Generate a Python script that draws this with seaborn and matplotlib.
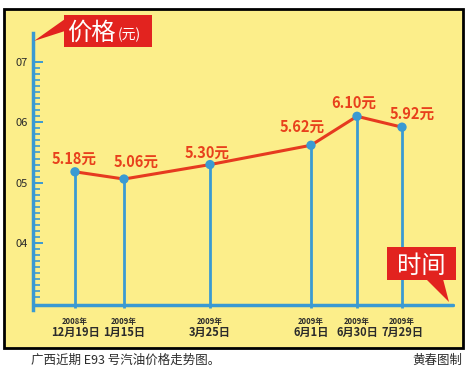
import matplotlib
matplotlib.use('Agg')
import matplotlib.pyplot as plt
from matplotlib.patches import Rectangle, Polygon
import seaborn as sns
import pandas as pd

# data
dates_year = ['2008年', '2009年', '2009年', '2009年', '2009年', '2009年']
dates_day = ['12月19日', '1月15日', '3月25日', '6月1日', '6月30日', '7月29日']
prices = [5.18, 5.06, 5.30, 5.62, 6.10, 5.92]
price_labels = ['5.18元', '5.06元', '5.30元', '5.62元', '6.10元', '5.92元']
y_ticks = [4, 5, 6, 7]
y_tick_labels = ['04', '05', '06', '07']

# layout: horizontal slot of each date on the axis, label offsets (px)
x_slots = [42, 91, 177, 278, 324, 369]
label_offsets = [(-1, 13), (12, 17), (-3, 12), (-9, 18), (-3, 14), (10, 13)]

YELLOW = '#fcee8a'
RED = '#e2231f'
LINE_RED = '#e63a1f'
LABEL_RED = '#e8401c'
BLUE = '#3a9ad2'
DARK = '#2b2b2b'

sns.set_style('white')
plt.rcParams['font.family'] = ['Noto Sans CJK SC', 'DejaVu Sans']

W, H = 468, 373
fig = plt.figure(figsize=(W / 100, H / 100), dpi=100)

# background panel
bg = fig.add_axes([0, 0, 1, 1], zorder=0)
bg.set_xlim(0, W)
bg.set_ylim(H, 0)
bg.axis('off')
bg.add_patch(Rectangle((4, 9), 459, 339, facecolor=YELLOW, edgecolor='black', lw=2))
bg.text(31, 360, '广西近期 E93 号汽油价格走势图。', fontsize=9, color=DARK, va='center', ha='left')
bg.text(462, 360, '黄春图制', fontsize=9, color=DARK, va='center', ha='right')

# main axes
left, right, top, bottom = 33, 455, 33, 310
ax = fig.add_axes([left / W, 1 - bottom / H, (right - left) / W, (bottom - top) / H], zorder=1)
ax.patch.set_alpha(0)
ax.set_xlim(0, right - left)
ax.set_ylim(2.889, 7.481)
baseline = 2.972
vbottom = 2.922

df = pd.DataFrame({'x': x_slots, 'price': prices})

ax.vlines(df['x'], vbottom, df['price'], color=BLUE, lw=2, zorder=2)
ax.axhline(baseline, xmin=0, xmax=0.995, color=BLUE, lw=2.5, zorder=2)
sns.lineplot(data=df, x='x', y='price', color=LINE_RED, lw=2.2, ax=ax, zorder=3)
sns.scatterplot(data=df, x='x', y='price', color=BLUE, s=45, edgecolor='none', ax=ax, zorder=4)

for x, p, lab, (dx, dy) in zip(x_slots, prices, price_labels, label_offsets):
    ax.annotate(lab, (x, p), xytext=(dx * 0.72, dy * 0.72), textcoords='offset points',
                ha='center', va='center', fontsize=10.5, fontweight='bold', color=LABEL_RED)

for x, yr, d in zip(x_slots, dates_year, dates_day):
    ax.annotate(yr, (x, 0), xycoords=('data', 'axes fraction'), xytext=(0, -8),
                textcoords='offset points', ha='center', va='center', fontsize=5.5,
                fontweight='bold', color=DARK)
    ax.annotate(d, (x, 0), xycoords=('data', 'axes fraction'), xytext=(0, -16.5),
                textcoords='offset points', ha='center', va='center', fontsize=8,
                fontweight='bold', color=DARK)

for s in ['top', 'right', 'bottom']:
    ax.spines[s].set_visible(False)
ax.spines['left'].set_color(BLUE)
ax.spines['left'].set_linewidth(2.5)

ax.set_xticks([])
ax.set_yticks(y_ticks)
ax.set_yticklabels(y_tick_labels)
ax.set_yticks([v / 10 for v in range(31, 70) if v % 10 != 0], minor=True)
ax.tick_params(axis='y', which='major', direction='in', length=7.5, width=1.4, color=BLUE,
               pad=4, labelsize=8, labelcolor=DARK, left=True)
ax.tick_params(axis='y', which='minor', direction='in', length=5, width=1.2, color=BLUE, left=True)
ax.set_xlabel('')
ax.set_ylabel('')

# callout boxes
ov = fig.add_axes([0, 0, 1, 1], zorder=3)
ov.patch.set_alpha(0)
ov.set_xlim(0, W)
ov.set_ylim(H, 0)
ov.axis('off')
ov.add_patch(Rectangle((64, 15), 88, 32, facecolor=RED, edgecolor='none'))
ov.add_patch(Polygon([(65, 19), (65, 31), (34, 41)], closed=True, facecolor=RED, edgecolor='none'))
ov.text(67, 33, '价格', fontsize=17.5, color='white', ha='left', va='center')
ov.text(118, 35, '(元)', fontsize=10, color='white', ha='left', va='center')

ov.add_patch(Rectangle((387, 247), 69, 33, facecolor=RED, edgecolor='none'))
ov.add_patch(Polygon([(426, 279), (443, 279), (449, 302)], closed=True, facecolor=RED, edgecolor='none'))
ov.text(421, 266, '时间', fontsize=17.5, color='white', ha='center', va='center')

fig.savefig('out.png', dpi=100)
